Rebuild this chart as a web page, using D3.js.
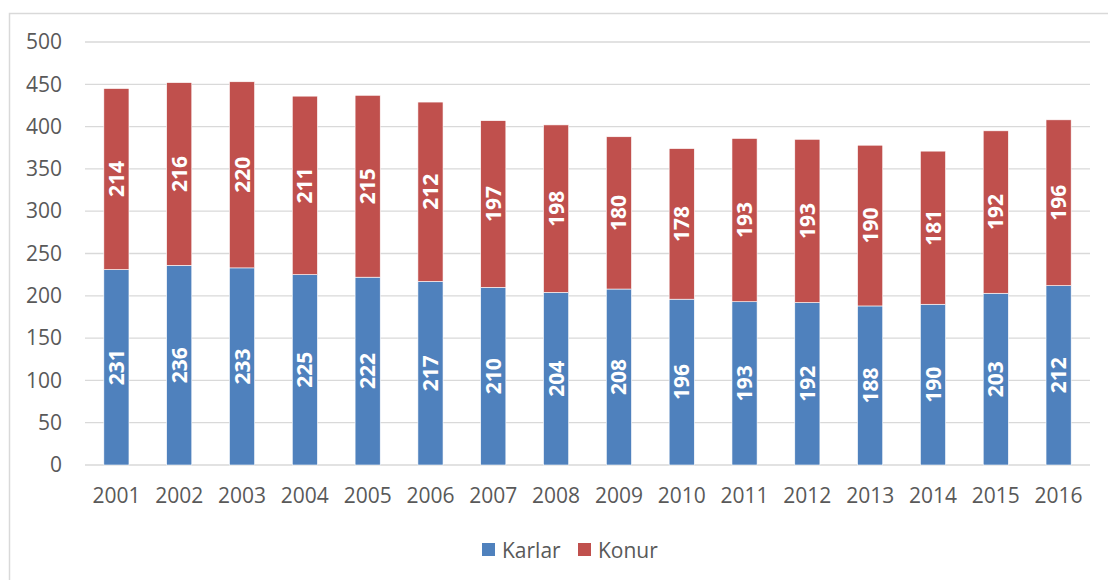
<!doctype html>
<html>
<head>
<script src="https://cdnjs.cloudflare.com/ajax/libs/d3/7.8.5/d3.min.js"></script>
<style>
  body { margin: 0; background: #fff; }
  svg text { font-family: "Open Sans", sans-serif; }
</style>
</head>
<body>
<div id="viz"></div>
<script>
// values
var years = ["2001","2002","2003","2004","2005","2006","2007","2008","2009","2010","2011","2012","2013","2014","2015","2016"];
var karlar = [231,236,233,225,222,217,210,204,208,196,193,192,188,190,203,212];
var konur = [214,216,220,211,215,212,197,198,180,178,193,193,190,181,192,196];
var yTicks = [0,50,100,150,200,250,300,350,400,450,500];
var seriesNames = ["Karlar","Konur"];
var colors = ["#4f81bd","#c0504d"];

var W = 1108, H = 580;
var svg = d3.select("#viz").append("svg").attr("width", W).attr("height", H);

// chart frame
svg.append("rect").attr("x", 9.5).attr("y", 13.5).attr("width", 1110).attr("height", 580)
    .attr("fill", "none").attr("stroke", "#d9d9d9").attr("stroke-width", 1.5);

var plotLeft = 85, plotRight = 1090, plotTop = 42, plotBottom = 465;

var x = d3.scaleBand().domain(years).range([plotLeft, plotRight]).paddingInner(0.6).paddingOuter(0.3);
var y = d3.scaleLinear().domain([0, 500]).range([plotBottom, plotTop]);

// gridlines
svg.append("g").selectAll("line").data(yTicks).enter().append("line")
    .attr("x1", plotLeft).attr("x2", plotRight)
    .attr("y1", d => y(d)).attr("y2", d => y(d))
    .attr("stroke", "#d9d9d9").attr("stroke-width", 1.3);

// y axis labels
var yAxis = svg.append("g").attr("transform", "translate(" + 62 + ",0)")
    .call(d3.axisLeft(y).tickValues(yTicks).tickSize(0).tickPadding(0));
yAxis.select(".domain").remove();
yAxis.selectAll("text").attr("fill", "#595959").style("font-size", "21px")
    .style("font-family", "'Open Sans', sans-serif");

// x axis labels
var xAxis = svg.append("g").attr("transform", "translate(0," + plotBottom + ")")
    .call(d3.axisBottom(x).tickSize(0).tickPadding(23));
xAxis.select(".domain").remove();
xAxis.selectAll("text").attr("fill", "#595959").style("font-size", "21px")
    .style("font-family", "'Open Sans', sans-serif");

var data = years.map((yr, i) => ({ year: yr, Karlar: karlar[i], Konur: konur[i] }));
var stacked = d3.stack().keys(seriesNames)(data);

var layers = svg.append("g").selectAll("g.layer").data(stacked).enter()
    .append("g").attr("class", "layer").attr("fill", (d, i) => colors[i]);

layers.selectAll("rect").data(d => d).enter().append("rect")
    .attr("x", d => x(d.data.year))
    .attr("y", d => y(d[1]))
    .attr("width", x.bandwidth())
    .attr("height", d => y(d[0]) - y(d[1]))
    .attr("stroke", "#ffffff").attr("stroke-width", 0.6);

// value labels, rotated
layers.each(function (layer) {
    d3.select(this).selectAll("text").data(layer).enter().append("text")
        .attr("transform", d => "translate(" + (x(d.data.year) + x.bandwidth() / 2) + "," + y((d[0] + d[1]) / 2) + ") rotate(-90)")
        .attr("text-anchor", "middle")
        .attr("dy", "0.36em")
        .attr("fill", "#ffffff")
        .style("font-size", "21px")
        .style("font-weight", "bold")
        .text(d => d[1] - d[0]);
});

// legend
var legend = svg.append("g").attr("transform", "translate(482,543)");
var lx = [0, 96];
seriesNames.forEach(function (name, i) {
    var g = legend.append("g").attr("transform", "translate(" + lx[i] + ",0)");
    g.append("rect").attr("width", 13).attr("height", 13).attr("fill", colors[i]);
    g.append("text").attr("x", 20).attr("y", 7).attr("dy", "0.36em")
        .attr("fill", "#595959").style("font-size", "21px").text(name);
});
</script>
</body>
</html>
